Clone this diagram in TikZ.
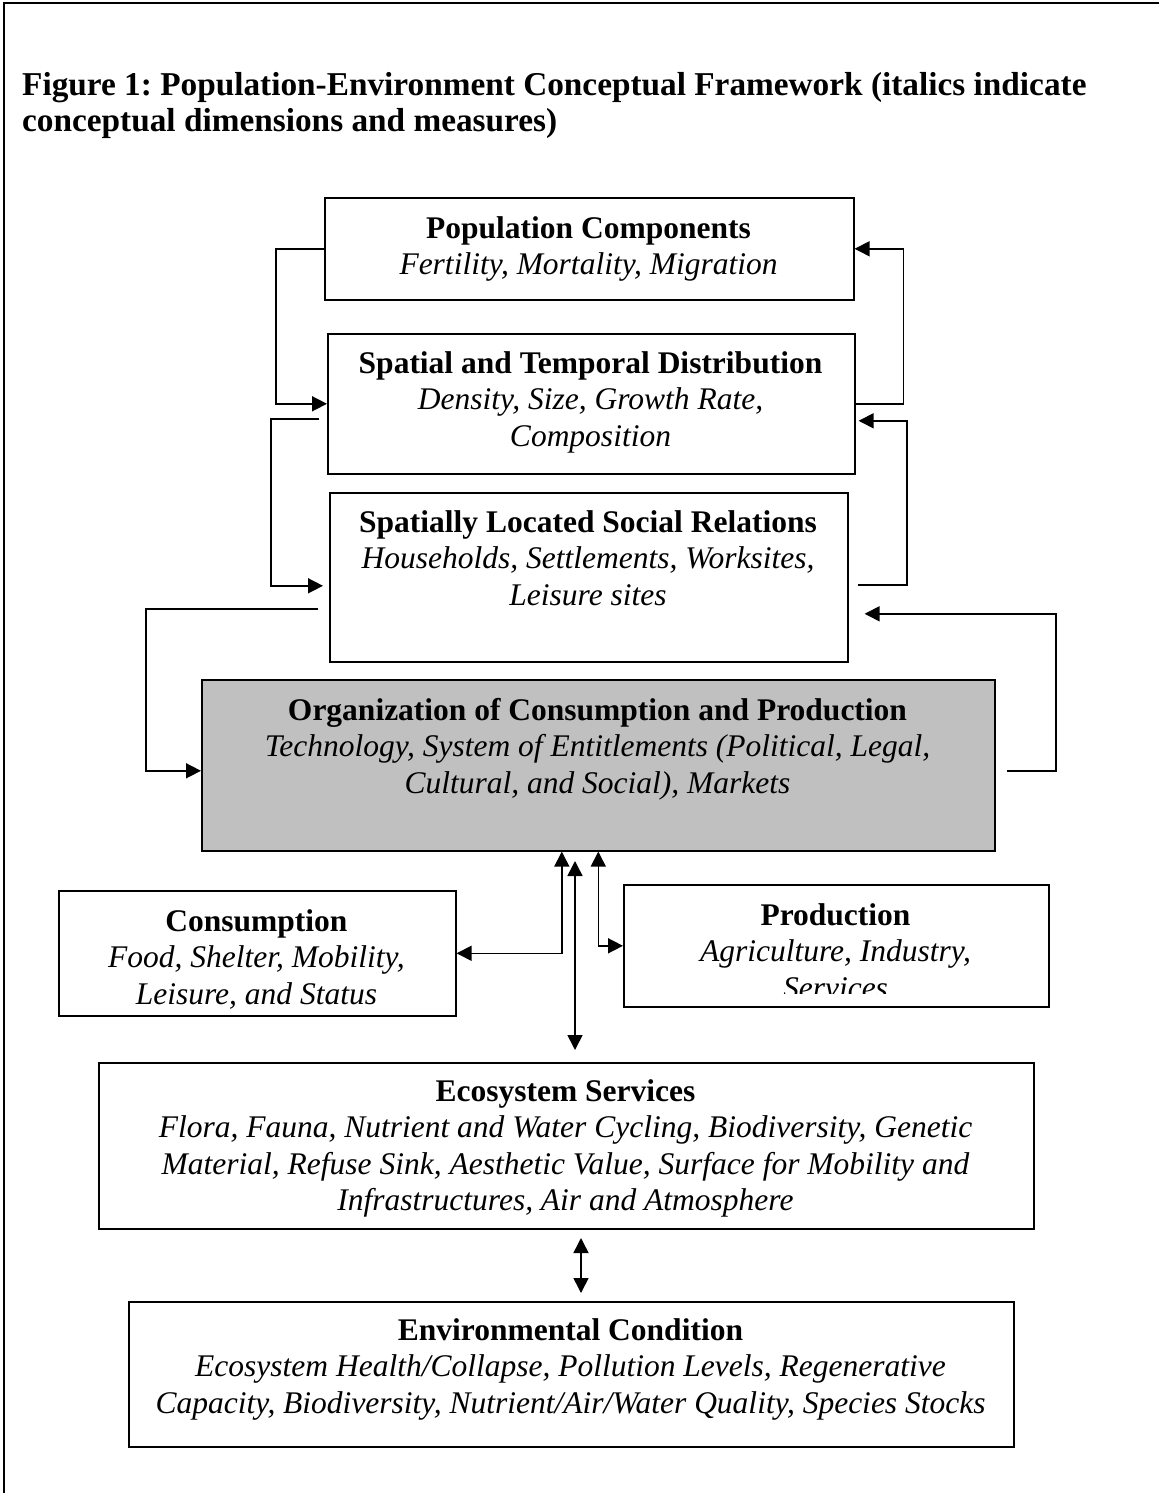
\documentclass[tikz,border=0pt]{standalone}
\usepackage{fontspec}
\setmainfont{Liberation Serif}
\usetikzlibrary{arrows.meta}
\definecolor{orggray}{HTML}{C0C0C0}
\frenchspacing
\begin{document}
\begin{tikzpicture}[x=1pt,y=-1pt,
  box/.style={draw, line width=1.6pt, rectangle, inner sep=0pt, anchor=north west},
  txt/.style={align=center, anchor=base, inner sep=0pt, font=\fontsize{31.5}{36.5}\selectfont},
  arr/.style={line width=1.6pt, -{Triangle[length=15pt,width=15pt]}},
  darr/.style={line width=1.6pt, {Triangle[length=15pt,width=15pt]}-{Triangle[length=15pt,width=15pt]}}]
\useasboundingbox (0,0) rectangle (1159,1493);
\coordinate (fbl) at (4,1493);
\coordinate (ftl) at (4,3);
\coordinate (ftr) at (1159,3);
\draw[line width=2pt] (fbl) -- (ftl) -- (ftr);

\node[anchor=base west, align=left, inner sep=0pt, font=\bfseries\fontsize{33.3}{35.5}\selectfont] (title) at (22,131.5)
  {Figure 1: Population-Environment Conceptual Framework (italics indicate\\conceptual dimensions and measures)};

% boxes
\node[box, minimum width=529pt, minimum height=102pt] (pop) at (324,197) {};
\node[box, minimum width=527pt, minimum height=140pt] (spat) at (327,333) {};
\node[box, minimum width=518pt, minimum height=169pt] (sls) at (329,492) {};
\node[box, fill=orggray, minimum width=793pt, minimum height=171pt] (org) at (201,679) {};
\node[box, minimum width=397pt, minimum height=125pt] (cons) at (58,890) {};
\node[box, minimum width=425pt, minimum height=122pt] (prod) at (623,884) {};
\node[box, minimum width=935pt, minimum height=166pt] (eco) at (98,1062) {};
\node[box, minimum width=885pt, minimum height=145pt] (env) at (128,1301) {};

% texts (anchor = baseline of last line)
\node[txt] (popT) at (588.5,274.5) {\textbf{Population Components}\\\textit{Fertility, Mortality, Migration}};
\node[txt] (spatT) at (590.5,446) {\textbf{Spatial and Temporal Distribution}\\\textit{Density, Size, Growth Rate,}\\\textit{Composition}};
\node[txt] (slsT) at (588,605) {\textbf{Spatially Located Social Relations}\\\textit{Households, Settlements, Worksites,}\\\textit{Leisure sites}};
\node[txt] (orgT) at (597.5,793) {\textbf{Organization of Consumption and Production}\\\textit{Technology, System of Entitlements (Political, Legal,}\\\textit{Cultural, and Social), Markets}};
\node[txt] (consT) at (256.5,1004) {\textbf{Consumption}\\\textit{Food, Shelter, Mobility,}\\\textit{Leisure, and Status}};
\begin{scope}
\clip (prod.north west) rectangle ([yshift=14pt]prod.south east);
\node[txt] (prodT) at (835.5,998) {\textbf{Production}\\\textit{Agriculture, Industry,}\\\textit{Services}};
\end{scope}
\node[txt] (ecoT) at (565.5,1210.5) {\textbf{Ecosystem Services}\\\textit{Flora, Fauna, Nutrient and Water Cycling, Biodiversity, Genetic}\\\textit{Material, Refuse Sink, Aesthetic Value, Surface for Mobility and}\\\textit{Infrastructures, Air and Atmosphere}};
\node[txt] (envT) at (570.5,1413) {\textbf{Environmental Condition}\\\textit{Ecosystem Health/Collapse, Pollution Levels, Regenerative}\\\textit{Capacity, Biodiversity, Nutrient/Air/Water Quality, Species Stocks}};

% left-side feedback connectors
\draw[arr] (pop.west) -- ++(-48,0) |- (spat.west);
\coordinate (a2s) at (319,419);
\draw[arr] (a2s) -- ++(-48,0) |- ([xshift=-6pt,yshift=-8.5pt]sls.west);
\coordinate (a3s) at (318,609);
\draw[arr] (a3s) -- ++(-172,0) |- ([yshift=-5.5pt]org.west);

% right-side feedback connectors
\draw[arr] (spat.east) -- ++(48,0) |- (pop.east);
\coordinate (a5s) at (858,585);
\draw[arr] (a5s) -- ++(49,0) |- ([xshift=3pt,yshift=-17pt]spat.east);
\coordinate (a6s) at (1007,771);
\draw[arr] (a6s) -- ++(49,0) |- ([xshift=16pt,yshift=-36.5pt]sls.east);

% bottom connectors
\draw[darr] (cons.east) -| ([xshift=-36.5pt]org.south);
\draw[darr] (org.south) |- (prod.west);
\coordinate (m1) at (575,861);
\coordinate (m2) at (575,1050);
\draw[darr] (m1) -- (m2);
\coordinate (e1) at (581,1238);
\coordinate (e2) at (581,1293);
\draw[darr] (e1) -- (e2);
\end{tikzpicture}
\end{document}
